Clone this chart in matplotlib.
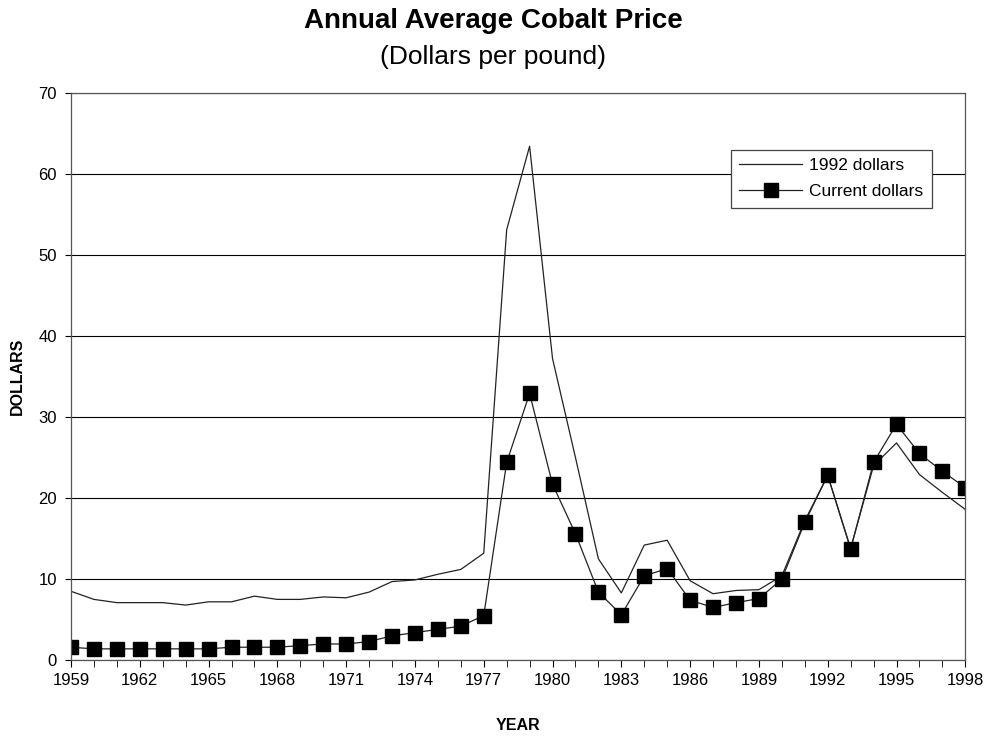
import numpy as np
import matplotlib
matplotlib.use('Agg')
import matplotlib.pyplot as plt
from matplotlib.ticker import MultipleLocator

plt.rcParams['font.family'] = ['Liberation Sans', 'DejaVu Sans']

years = list(range(1959, 1999))

# 1992 constant dollars
real_1992 = [8.5, 7.5, 7.1, 7.1, 7.1, 6.8, 7.2, 7.2, 7.9, 7.5,
             7.5, 7.8, 7.7, 8.4, 9.7, 9.9, 10.6, 11.2, 13.2, 53.1,
             63.4, 37.2, 25.0, 12.5, 8.3, 14.2, 14.8, 9.8, 8.2, 8.6,
             8.7, 10.4, 17.2, 22.8, 13.8, 24.0, 26.8, 22.9, 20.7, 18.6]

# current dollars
current = [1.6, 1.4, 1.4, 1.4, 1.4, 1.4, 1.4, 1.6, 1.6, 1.6,
           1.8, 2.0, 2.0, 2.3, 3.0, 3.4, 3.8, 4.2, 5.5, 24.4,
           32.9, 21.7, 15.6, 8.4, 5.6, 10.4, 11.3, 7.4, 6.5, 7.1,
           7.6, 10.0, 17.0, 22.8, 13.7, 24.4, 29.1, 25.5, 23.3, 21.3]

fig = plt.figure(figsize=(9.86, 7.36), dpi=100)
ax = fig.add_axes([0.072, 0.103, 0.907, 0.771])

ax.plot(years, real_1992, color='#222222', lw=0.9, label='1992 dollars')
ax.plot(years, current, color='#222222', lw=0.9, marker='s', markersize=10.5,
        markerfacecolor='black', markeredgecolor='black', label='Current dollars')

ax.set_xlim(1959, 1998)
ax.set_ylim(0, 70)
ax.set_xticks(range(1959, 1999, 3))
ax.xaxis.set_minor_locator(MultipleLocator(1))
ax.set_yticks(range(0, 71, 10))
ax.yaxis.grid(True, color='black', lw=0.8)
ax.set_axisbelow(True)

ax.tick_params(axis='x', which='both', direction='out', length=5, labelsize=12, pad=4)
ax.tick_params(axis='y', direction='out', length=4, labelsize=12, pad=6)
for s in ax.spines.values():
    s.set_color('#555555')
    s.set_linewidth(0.9)

ax.set_ylabel('DOLLARS', fontsize=11.5, fontweight='bold', labelpad=10)
ax.set_xlabel('YEAR', fontsize=11.5, fontweight='bold', labelpad=22)

fig.text(0.5, 0.971, 'Annual Average Cobalt Price', ha='center', va='center',
         fontsize=20, fontweight='bold')
fig.text(0.5, 0.922, '(Dollars per pound)', ha='center', va='center', fontsize=19)

leg = ax.legend(loc='upper left', bbox_to_anchor=(0.728, 0.915), fontsize=12.5,
                frameon=True, fancybox=False, framealpha=1, borderpad=0.5,
                handlelength=3.6, labelspacing=0.6, handletextpad=0.4)
leg.get_frame().set_edgecolor('#444444')
leg.get_frame().set_linewidth(0.9)

fig.savefig('out.png', dpi=100)
